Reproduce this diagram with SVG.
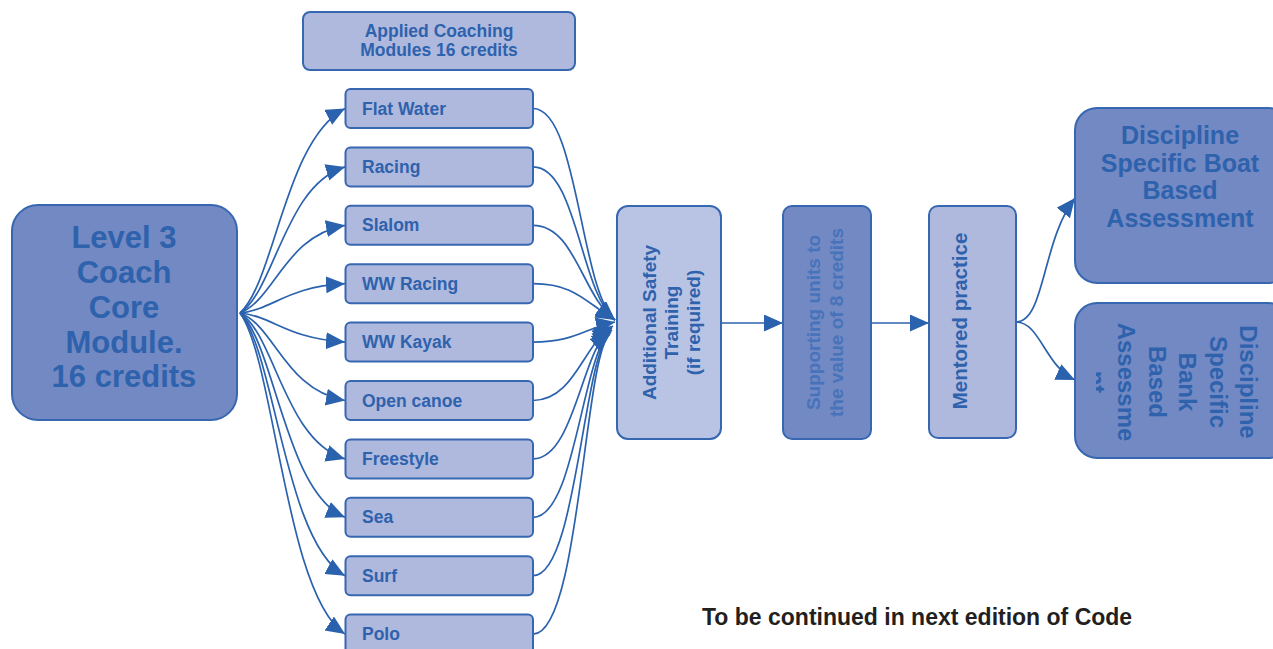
<svg xmlns="http://www.w3.org/2000/svg" width="1273" height="649" viewBox="0 0 1273 649">
  <style>
    .box { fill: #aeb9dd; stroke: #3767b1; stroke-width: 2; }
    .pale { fill: #b9c4e4; stroke: #3767b1; stroke-width: 2; }
    .dark { fill: #7289c3; stroke: #3767b1; stroke-width: 2; }
    text { font-family: "Liberation Sans", Arial, sans-serif; font-weight: bold; fill: #2e62ad; }
    .item { font-size: 17.5px; }
    .mid { text-anchor: middle; }
    .soft { fill: #4773ba; }
    .note { fill: #231f20; font-size: 23px; }
    .link { fill: none; stroke: #2b62ae; stroke-width: 1.7; marker-end: url(#arrow); }
  </style>
  <defs>
    <marker id="arrow" markerUnits="userSpaceOnUse" markerWidth="22" markerHeight="20" refX="19" refY="8.5" orient="auto">
      <path d="M0,0 L19,8.5 L0,17 Z" fill="#2b62ae"/>
    </marker>
    <clipPath id="bankClip">
      <rect x="1096" y="303" width="177" height="155"/>
    </clipPath>
  </defs>

  <rect width="1273" height="649" fill="#ffffff"/>

  <!-- connectors -->
  <g id="connectors">
    <!-- core module fans out to each discipline -->
    <path class="link" d="M240,313 C275,281 285,140 345,108.5"/>
    <path class="link" d="M240,313 C275,290 285,185 345,166.9"/>
    <path class="link" d="M240,313 C275,299 285,236 345,225.3"/>
    <path class="link" d="M240,313 C275,309 285,287 345,283.7"/>
    <path class="link" d="M240,313 C275,317 285,338 345,342.1"/>
    <path class="link" d="M240,313 C275,326 285,390 345,400.5"/>
    <path class="link" d="M240,313 C275,335 285,441 345,458.9"/>
    <path class="link" d="M240,313 C275,344 285,492 345,517.3"/>
    <path class="link" d="M240,313 C275,352 285,543 345,575.7"/>
    <path class="link" d="M240,313 C275,361 285,594 345,634.1"/>
    <!-- disciplines converge on safety training -->
    <path class="link" d="M533,108.5 C578,108.5 580,290 615,320"/>
    <path class="link" d="M533,166.9 C577,166.9 580,292 615,320"/>
    <path class="link" d="M533,225.3 C575,225.3 582,296 615,320"/>
    <path class="link" d="M533,283.7 C575,283.7 585,302 615,320"/>
    <path class="link" d="M533,342.1 C575,342.1 585,328 615,322"/>
    <path class="link" d="M533,400.5 C575,400.5 584,342 613,326"/>
    <path class="link" d="M533,458.9 C575,458.9 582,346 612,328"/>
    <path class="link" d="M533,517.3 C576,517.3 582,350 612,330"/>
    <path class="link" d="M533,575.7 C577,575.7 583,352 611,332"/>
    <path class="link" d="M533,634.1 C580,634.1 584,354 610,334"/>
    <!-- main sequence -->
    <path class="link" d="M721,323 L783,323"/>
    <path class="link" d="M871,323 L929,323"/>
    <!-- assessment split -->
    <path class="link" d="M1016,322 C1045,322 1042,240 1075,198"/>
    <path class="link" d="M1016,322 C1040,322 1045,366 1075,380"/>
  </g>

  <g id="applied-coaching">
    <rect class="box" x="303" y="12" width="272" height="58" rx="7"/>
    <text class="mid" x="439" y="37" font-size="17.5">Applied Coaching</text>
    <text class="mid" x="439" y="56" font-size="17.5">Modules 16 credits</text>
  </g>

  <g id="core-module">
    <rect class="dark" x="12" y="205" width="225" height="215" rx="26"/>
    <text class="mid" x="124" y="248" font-size="31">Level 3</text>
    <text class="mid" x="124" y="283" font-size="31">Coach</text>
    <text class="mid" x="124" y="318" font-size="31">Core</text>
    <text class="mid" x="124" y="353" font-size="31">Module.</text>
    <text class="mid" x="124" y="387" font-size="31">16 credits</text>
  </g>

  <g id="flat-water">
    <rect class="box" x="345.5" y="89" width="187.5" height="39" rx="5"/>
    <text class="item" x="362" y="114.5">Flat Water</text>
  </g>
  <g id="racing">
    <rect class="box" x="345.5" y="147.4" width="187.5" height="39" rx="5"/>
    <text class="item" x="362" y="172.9">Racing</text>
  </g>
  <g id="slalom">
    <rect class="box" x="345.5" y="205.8" width="187.5" height="39" rx="5"/>
    <text class="item" x="362" y="231.3">Slalom</text>
  </g>
  <g id="ww-racing">
    <rect class="box" x="345.5" y="264.2" width="187.5" height="39" rx="5"/>
    <text class="item" x="362" y="289.7">WW Racing</text>
  </g>
  <g id="ww-kayak">
    <rect class="box" x="345.5" y="322.6" width="187.5" height="39" rx="5"/>
    <text class="item" x="362" y="348.1">WW Kayak</text>
  </g>
  <g id="open-canoe">
    <rect class="box" x="345.5" y="381" width="187.5" height="39" rx="5"/>
    <text class="item" x="362" y="406.5">Open canoe</text>
  </g>
  <g id="freestyle">
    <rect class="box" x="345.5" y="439.4" width="187.5" height="39" rx="5"/>
    <text class="item" x="362" y="464.9">Freestyle</text>
  </g>
  <g id="sea">
    <rect class="box" x="345.5" y="497.8" width="187.5" height="39" rx="5"/>
    <text class="item" x="362" y="523.3">Sea</text>
  </g>
  <g id="surf">
    <rect class="box" x="345.5" y="556.2" width="187.5" height="39" rx="5"/>
    <text class="item" x="362" y="581.7">Surf</text>
  </g>
  <g id="polo">
    <rect class="box" x="345.5" y="614.6" width="187.5" height="39" rx="5"/>
    <text class="item" x="362" y="640.1">Polo</text>
  </g>

  <g id="safety-training">
    <rect class="pale" x="617" y="206" width="104" height="233" rx="11"/>
    <g transform="translate(669,322.5) rotate(-90)">
      <text class="mid" x="0" y="-13" font-size="19">Additional Safety</text>
      <text class="mid" x="0" y="9" font-size="19">Training</text>
      <text class="mid" x="0" y="31" font-size="19">(if required)</text>
    </g>
  </g>

  <g id="supporting-units">
    <rect class="dark" x="783" y="206" width="88" height="233" rx="9"/>
    <g transform="translate(827,322.5) rotate(-90)">
      <text class="mid soft" x="0" y="-7" font-size="19">Supporting units to</text>
      <text class="mid soft" x="0" y="16" font-size="19">the value of 8 credits</text>
    </g>
  </g>

  <g id="mentored-practice">
    <rect class="box" x="929" y="206" width="87" height="232" rx="9"/>
    <g transform="translate(960,321) rotate(-90)">
      <text class="mid" x="0" y="7" font-size="20.5">Mentored practice</text>
    </g>
  </g>

  <g id="boat-assessment">
    <rect class="dark" x="1075" y="108" width="215" height="175" rx="22"/>
    <text class="mid" x="1180" y="144" font-size="25">Discipline</text>
    <text class="mid" x="1180" y="171.5" font-size="25">Specific Boat</text>
    <text class="mid" x="1180" y="199" font-size="25">Based</text>
    <text class="mid" x="1180" y="226.5" font-size="25">Assessment</text>
  </g>

  <g id="bank-assessment">
    <rect class="dark" x="1075" y="303" width="215" height="155" rx="22"/>
    <g clip-path="url(#bankClip)">
      <g transform="translate(1240,382) rotate(90)">
        <text class="mid" x="0" y="0" font-size="24">Discipline</text>
        <text class="mid" x="0" y="30.4" font-size="24">Specific</text>
        <text class="mid" x="0" y="60.8" font-size="24">Bank</text>
        <text class="mid" x="0" y="91.2" font-size="24">Based</text>
        <text class="mid" x="0" y="121.6" font-size="24">Assessme</text>
        <text class="mid" x="0" y="152" font-size="24">nt</text>
      </g>
    </g>
  </g>

  <text class="note" x="702" y="625">To be continued in next edition of Code</text>
</svg>
